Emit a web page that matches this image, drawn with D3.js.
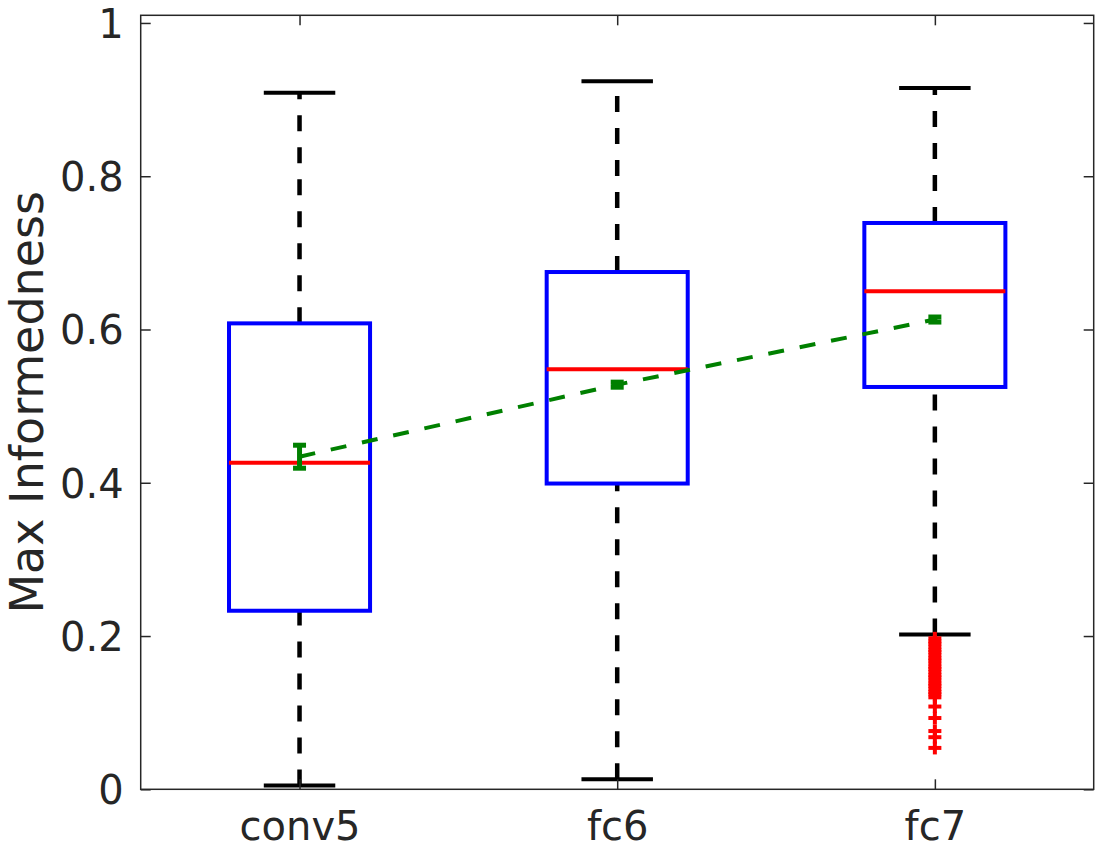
<!DOCTYPE html>
<html>
<head>
<meta charset="utf-8">
<script src="https://cdn.jsdelivr.net/npm/d3@7"></script>
<style>
  html, body { margin: 0; padding: 0; background: #fff; }
  svg { display: block; }
  text { font-family: "DejaVu Sans", sans-serif; }
</style>
</head>
<body>
<svg id="chart" width="1110" height="848"></svg>
<script>
// ---- data ----
const categories = ["conv5", "fc6", "fc7"];
const upperWhisker = [0.909, 0.924, 0.915];
const q3 = [0.608, 0.675, 0.739];
const median = [0.426, 0.548, 0.650];
const q1 = [0.233, 0.399, 0.525];
const lowerWhisker = [0.005, 0.013, 0.202];
const means = [0.434, 0.528, 0.613];
const meanErr = [0.015, 0.0033, 0.0033];
const fc7Outliers = [0.197, 0.193, 0.190, 0.186, 0.182, 0.179, 0.175, 0.171, 0.168,
  0.164, 0.160, 0.157, 0.153, 0.149, 0.146, 0.142, 0.138, 0.135, 0.131, 0.127,
  0.124, 0.120, 0.108, 0.093, 0.076, 0.068, 0.054];
const yTicks = [0, 0.2, 0.4, 0.6, 0.8, 1];
const yLabel = "Max Informedness";

// ---- layout ----
const L = 140.7, R = 1093.7, T = 15.3, B = 789.3;
const svg = d3.select("#chart");
const x = d3.scaleLinear().domain([0.5, 3.5]).range([L, R]);
const y = d3.scaleLinear().domain([0, 1.01]).range([B, T]);
const boxHalf = 0.222, capHalf = 0.1125;
const axisColor = "#262626";

const groups = categories.map((c, i) => ({
  c, pos: i + 1, uw: upperWhisker[i], q3: q3[i], med: median[i], q1: q1[i], lw: lowerWhisker[i]
}));

const g = svg.append("g");

// whiskers (drawn from lower value upward)
groups.forEach(d => {
  [[d.q3, d.uw], [d.lw, d.q1]].forEach(([a, b]) => {
    g.append("line")
      .attr("x1", x(d.pos)).attr("x2", x(d.pos))
      .attr("y1", y(a)).attr("y2", y(b))
      .attr("stroke", "#000").attr("stroke-width", 4.5)
      .attr("stroke-dasharray", "16,16");
  });
  [d.uw, d.lw].forEach(v => {
    g.append("line")
      .attr("x1", x(d.pos - capHalf)).attr("x2", x(d.pos + capHalf))
      .attr("y1", y(v)).attr("y2", y(v))
      .attr("stroke", "#000").attr("stroke-width", 4);
  });
});

// boxes
g.selectAll("rect.box").data(groups).join("rect")
  .attr("class", "box")
  .attr("x", d => x(d.pos - boxHalf))
  .attr("width", d => x(d.pos + boxHalf) - x(d.pos - boxHalf))
  .attr("y", d => y(d.q3))
  .attr("height", d => y(d.q1) - y(d.q3))
  .attr("fill", "none").attr("stroke", "#0000ff").attr("stroke-width", 4);

// medians
g.selectAll("line.med").data(groups).join("line")
  .attr("class", "med")
  .attr("x1", d => x(d.pos - boxHalf)).attr("x2", d => x(d.pos + boxHalf))
  .attr("y1", d => y(d.med)).attr("y2", d => y(d.med))
  .attr("stroke", "#ff0000").attr("stroke-width", 4);

// outliers (+ markers) for fc7
const oPos = 3, ms = 6.5;
const og = g.append("g").attr("stroke", "#ff0000").attr("stroke-width", 4);
fc7Outliers.forEach(v => {
  og.append("line").attr("x1", x(oPos) - ms).attr("x2", x(oPos) + ms)
    .attr("y1", y(v)).attr("y2", y(v));
  og.append("line").attr("x1", x(oPos)).attr("x2", x(oPos))
    .attr("y1", y(v) - ms).attr("y2", y(v) + ms);
});

// mean line with error bars
const meanData = means.map((m, i) => ({ pos: i + 1, m, e: meanErr[i] }));
g.append("path")
  .datum(meanData)
  .attr("d", d3.line().x(d => x(d.pos)).y(d => y(d.m)))
  .attr("fill", "none").attr("stroke", "#008000").attr("stroke-width", 4)
  .attr("stroke-dasharray", "16,16");
const eg = g.append("g").attr("stroke", "#008000");
meanData.forEach(d => {
  eg.append("line").attr("x1", x(d.pos)).attr("x2", x(d.pos))
    .attr("y1", y(d.m - d.e)).attr("y2", y(d.m + d.e)).attr("stroke-width", 5);
  [d.m - d.e, d.m + d.e].forEach(v => {
    eg.append("line").attr("x1", x(d.pos) - 6.5).attr("x2", x(d.pos) + 6.5)
      .attr("y1", y(v)).attr("y2", y(v)).attr("stroke-width", 5);
  });
});

// ---- axes ----
const yAxis = d3.axisLeft(y).tickValues(yTicks).tickFormat(d3.format("~g"))
  .tickSize(-10).tickPadding(17);
const yAxisR = d3.axisRight(y).tickValues(yTicks).tickFormat("").tickSize(-10);
const xAxis = d3.axisBottom(x).tickValues([1, 2, 3]).tickFormat((d, i) => categories[i])
  .tickSize(-10).tickPadding(22);
const xAxisT = d3.axisTop(x).tickValues([1, 2, 3]).tickFormat("").tickSize(-10);

function style(sel) {
  sel.select(".domain").remove();
  sel.selectAll("line").attr("stroke", axisColor).attr("stroke-width", 1.5);
  sel.selectAll("text").attr("fill", axisColor).attr("font-size", 40)
    .attr("font-family", "DejaVu Sans");
}
svg.append("g").attr("transform", `translate(${L},0)`).call(yAxis).call(style)
  .selectAll("text").attr("dy", "0.36em");
svg.append("g").attr("transform", `translate(${R},0)`).call(yAxisR).call(style);
const xg = svg.append("g").attr("transform", `translate(0,${B})`).call(xAxis).call(style);
xg.selectAll("text").attr("y", 22).attr("dy", "0.71em");
svg.append("g").attr("transform", `translate(0,${T})`).call(xAxisT).call(style);

// frame
svg.append("rect").attr("x", L).attr("y", T).attr("width", R - L).attr("height", B - T)
  .attr("fill", "none").attr("stroke", axisColor).attr("stroke-width", 1.5);

// y label
svg.append("text")
  .attr("transform", `translate(42.5,${(T + B) / 2}) rotate(-90)`)
  .attr("text-anchor", "middle")
  .attr("font-size", 46).attr("fill", axisColor)
  .text(yLabel);
</script>
</body>
</html>
